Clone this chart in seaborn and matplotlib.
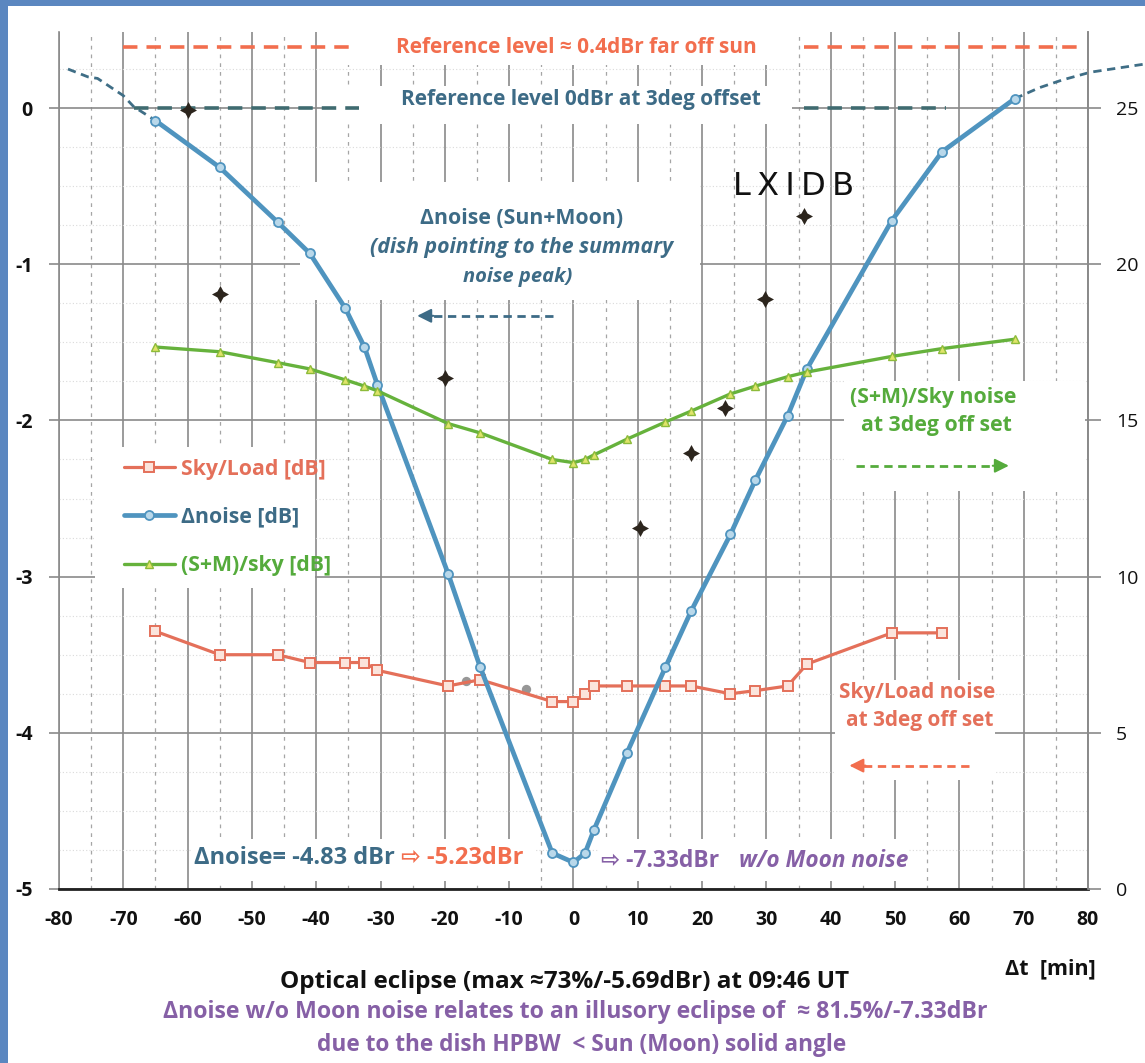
import matplotlib
matplotlib.use("Agg")
import matplotlib.pyplot as plt
from matplotlib.patches import Rectangle
from matplotlib.ticker import MultipleLocator
import seaborn as sns

# ---------------- data ----------------
dt_min = [-65, -55, -46, -41, -35.5, -32.5, -30.5, -19.5, -14.5, -3.3, 0, 1.8, 3.2,
          8.3, 14.3, 18.3, 24.4, 28.3, 33.3, 36.3, 49.5, 57.3, 68.6]
delta_noise = [-0.08, -0.38, -0.73, -0.93, -1.28, -1.53, -1.77, -2.98, -3.58, -4.77, -4.83, -4.77, -4.62,
               -4.13, -3.58, -3.22, -2.73, -2.38, -1.97, -1.67, -0.72, -0.28, 0.06]
sm_sky = [-1.53, -1.56, -1.63, -1.67, -1.74, -1.78, -1.81, -2.02, -2.08, -2.25, -2.27, -2.25, -2.22,
          -2.12, -2.01, -1.94, -1.83, -1.78, -1.72, -1.69, -1.59, -1.54, -1.48]
dt_sky = [-65, -55, -46, -41, -35.5, -32.5, -30.5, -19.5, -14.5, -3.3, 0, 1.8, 3.2,
          8.3, 14.3, 18.3, 24.4, 28.3, 33.3, 36.3, 49.5, 57.3]
sky_load = [-3.35, -3.50, -3.50, -3.55, -3.55, -3.55, -3.60, -3.70, -3.66, -3.80, -3.80, -3.75, -3.70,
            -3.70, -3.70, -3.70, -3.75, -3.73, -3.70, -3.56, -3.36, -3.36]

# dashed continuation of the delta-noise curve beyond the measured points
ext_left_x = [-78.6, -75.5, -74, -70, -68.4, -65]
ext_left_y = [0.25, 0.20, 0.19, 0.08, 0.01, -0.08]
ext_right_x = [68.6, 72.4, 76, 80.4, 88.5]
ext_right_y = [0.06, 0.13, 0.18, 0.23, 0.28]

# reference levels
ref_far_level = 0.39
ref_far_left = [-70, -34.6]
ref_far_right = [35.8, 78.3]
ref_off_level = 0.0
ref_off_left = [-68.4, -33.4]
ref_off_right = [35.8, 58]

# scanned pen marks and smudges on the printout
mark_x = [-60, -55, -20, 10.3, 18.2, 23.6, 29.8, 35.8]
mark_y = [-0.01, -1.19, -1.73, -2.69, -2.21, -1.92, -1.22, -0.69]
smudge_x = [-16.7, -7.4]
smudge_y = [-3.67, -3.72]

xticks = list(range(-80, 81, 10))
yticks_left = [0, -1, -2, -3, -4, -5]
yticks_right = [0, 5, 10, 15, 20, 25]

series_labels = ["Sky/Load [dB]", "\u0394noise [dB]", "(S+M)/sky [dB]"]

# ---------------- style ----------------
sns.set_theme(style="white")
plt.rcParams["font.family"] = ["Open Sans", "DejaVu Sans"]
plt.rcParams["axes.unicode_minus"] = False

C_RED = "#e4705a"
C_BLUE = "#4f94bf"
C_BLUE_TXT = "#3d6b86"
C_GREEN = "#66b23c"
C_GREEN_TXT = "#55ab3c"
C_SALMON = "#f26e4e"
C_PURPLE = "#8660a6"
C_GRID = "#8a8a8a"

fig = plt.figure(figsize=(11.45, 10.63), dpi=100)
ax = fig.add_axes([0.0515, 0.1637, 0.8987, 0.8066])

# blue frame of the scan
fig.patches.append(Rectangle((0, 0), 8 / 1145, 1, transform=fig.transFigure,
                             facecolor="#5b87c0", edgecolor="none"))
fig.patches.append(Rectangle((0, 1 - 6 / 1063), 1, 6 / 1063, transform=fig.transFigure,
                             facecolor="#5b87c0", edgecolor="none"))

ax.set_xlim(-80, 80)
ax.set_ylim(-5, 0.49)
ax.set_xticks(xticks)
ax.set_xticklabels([str(v) for v in xticks], fontweight="bold", fontsize=14)
ax.set_yticks(yticks_left)
ax.set_yticklabels([str(v) for v in yticks_left], fontweight="bold", fontsize=14)
ax.xaxis.set_minor_locator(MultipleLocator(5))
ax.yaxis.set_minor_locator(MultipleLocator(0.25))
ax.set_axisbelow(True)
ax.grid(which="major", color=C_GRID, lw=1.2)
ax.grid(which="minor", axis="x", color="#a5a5a5", lw=0.9, ls=(0, (3, 4)))
ax.grid(which="minor", axis="y", color="#dadada", lw=0.8, ls=(0, (1, 2)))
ax.spines["top"].set_visible(False)
for s in ["left", "right"]:
    ax.spines[s].set_color(C_GRID)
    ax.spines[s].set_linewidth(1.2)
ax.spines["bottom"].set_color("#222222")
ax.spines["bottom"].set_linewidth(2)
ax.tick_params(axis="x", which="major", direction="out", length=7, width=2,
               color="#222222", pad=8, labelcolor="#111111")
ax.tick_params(axis="both", which="minor", length=0)
ax.tick_params(axis="y", which="major", direction="out", length=7, width=1.2,
               color=C_GRID, pad=12, labelcolor="#111111")

ax2 = ax.twinx()
ax2.set_ylim(0, 5 * (0.49 + 5))
ax2.set_yticks(yticks_right)
ax2.set_yticklabels([str(v) for v in yticks_right], fontsize=14)
ax2.tick_params(axis="y", length=9, width=1.2, color=C_GRID, pad=11, labelcolor="#111111")
for s in ["top", "left", "bottom"]:
    ax2.spines[s].set_visible(False)
ax2.spines["right"].set_color(C_GRID)
ax2.grid(False)

# white text panels hiding the grid behind annotations
panels = [(-37.5, 0.275, 68.5, 0.215), (-39, -0.10, 73, 0.24), (-42.5, -1.23, 62.1, 0.76),
          (-74.4, -3.07, 34.2, 0.90), (42, -2.45, 37.5, 0.70), (40.6, -4.30, 24.9, 0.64),
          (-59.5, -4.95, 53.5, 0.27), (4, -4.95, 48, 0.27)]
for (px, py, pw, ph) in panels:
    ax.add_patch(Rectangle((px, py), pw, ph, facecolor="white", edgecolor="none", zorder=1))

# ---------------- series ----------------
sns.scatterplot(x=smudge_x, y=smudge_y, ax=ax, marker="o", s=45, color="#7d7d7d",
                alpha=0.8, linewidth=0, zorder=3, legend=False)
sns.lineplot(x=dt_sky, y=sky_load, ax=ax, sort=False, color=C_RED, lw=2.3,
             marker="s", ms=7, mfc="#fbe4dc", mec=C_RED, mew=1.4,
             label=series_labels[0], zorder=4)
sns.lineplot(x=dt_min, y=delta_noise, ax=ax, sort=False, color=C_BLUE, lw=3.4,
             marker="o", ms=6.5, mfc="#b9d8ea", mec=C_BLUE, mew=1.3,
             label=series_labels[1], zorder=4)
sns.lineplot(x=dt_min, y=sm_sky, ax=ax, sort=False, color=C_GREEN, lw=2.4,
             marker="^", ms=6, mfc="#dfe46a", mec="#8dbb3a", mew=1.0,
             label=series_labels[2], zorder=4)

ax.plot(ext_left_x, ext_left_y, color="#3f6e86", lw=2, ls=(0, (3, 2)), zorder=3, clip_on=False)
ax.plot(ext_right_x, ext_right_y, color="#3f6e86", lw=2, ls=(0, (3, 2)), zorder=3, clip_on=False)

for seg in (ref_far_left, ref_far_right):
    ax.plot(seg, [ref_far_level, ref_far_level], color=C_SALMON, lw=2.6, ls=(0, (4, 2.5)), zorder=3)
for seg in (ref_off_left, ref_off_right):
    ax.plot(seg, [ref_off_level, ref_off_level], color="#3f6b70", lw=2.6, ls=(0, (4, 2.5)), zorder=3)

sns.scatterplot(x=mark_x, y=mark_y, ax=ax, marker=(4, 1, 0), s=150, color="#2c251d",
                linewidth=0, zorder=5, legend=False)

# ---------------- legend ----------------
handles, labels = ax.get_legend_handles_labels()
leg = ax.legend(handles, labels, loc="upper left", bbox_to_anchor=(0.063, 0.502),
                frameon=False, handlelength=2.4, labelspacing=1.28, handletextpad=0.3,
                borderpad=0, borderaxespad=0, prop={"weight": "bold", "size": 15.3})
for t, c in zip(leg.get_texts(), [C_RED, C_BLUE_TXT, C_GREEN_TXT]):
    t.set_color(c)


# ---------------- annotations ----------------
def txt(x, y, s, color, size=15.3, style="normal", ha="center", weight="bold"):
    ax.text(x, y, s, color=color, fontsize=size, fontweight=weight, fontstyle=style,
            ha=ha, va="center", zorder=6)


def dashed_arrow(x0, x1, y, color):
    d = 1 if x1 > x0 else -1
    ax.plot([x0, x1 - d * 1.5], [y, y], color=color, lw=2, ls=(0, (3, 2)), zorder=5)
    ax.annotate("", xy=(x1, y), xytext=(x1 - d * 2.5, y),
                arrowprops=dict(arrowstyle="-|>,head_length=0.7,head_width=0.35",
                                color=color, lw=1.5, shrinkA=0, shrinkB=0), zorder=5)


txt(0.5, 0.39, "Reference level \u2248 0.4dBr far off sun", C_SALMON, size=15)
txt(1.2, 0.053, "Reference level 0dBr at 3deg offset", C_BLUE_TXT, size=15)
txt(-8, -0.71, "\u0394noise (Sun+Moon)", C_BLUE_TXT)
txt(-8, -0.89, "(dish pointing to the summary", C_BLUE_TXT, style="italic")
txt(-8.7, -1.08, "noise peak)", C_BLUE_TXT, style="italic", size=14.5)
dashed_arrow(-3.2, -24.3, -1.33, C_BLUE_TXT)

ax.text(34.2, -0.50, "L\u2009X\u2009I\u2009D\u2009B", color="#111111", fontsize=23,
        family="DejaVu Sans", ha="center", va="center", zorder=6)

txt(55.9, -1.85, "(S+M)/Sky noise", C_GREEN_TXT)
txt(56.4, -2.03, "at 3deg off set", C_GREEN_TXT)
dashed_arrow(44, 67.7, -2.29, C_GREEN_TXT)

txt(53.5, -3.74, "Sky/Load noise", C_RED, size=15)
txt(53.9, -3.92, "at 3deg off set", C_RED, size=15)
dashed_arrow(61.5, 42.9, -4.21, C_SALMON)

txt(-59, -4.80, "\u0394noise= -4.83 dBr", C_BLUE_TXT, size=17, ha="left")
txt(-26.8, -4.80, "\u21e8 -5.23dBr", C_SALMON, size=17, ha="left")
txt(4.3, -4.82, "\u21e8 -7.33dBr", C_PURPLE, size=16.5, ha="left")
txt(25.8, -4.82, "w/o Moon noise", C_PURPLE, size=16.3, style="italic", ha="left")

# ---------------- bottom captions ----------------
fig.text(0.917, 1 - 969 / 1063, "\u0394t  [min]", color="#111111", fontsize=15.5,
         fontweight="bold", ha="center", va="center")
fig.text(0.4934, 1 - 982 / 1063, "Optical eclipse (max \u224873%/-5.69dBr) at 09:46 UT",
         color="#111111", fontsize=17.5, fontweight="bold", ha="center", va="center")
fig.text(0.5026, 1 - 1012 / 1063,
         "\u0394noise w/o Moon noise relates to an illusory eclipse of  \u2248 81.5%/-7.33dBr",
         color=C_PURPLE, fontsize=16.7, fontweight="bold", ha="center", va="center")
fig.text(0.508, 1 - 1045 / 1063, "due to the dish HPBW  < Sun (Moon) solid angle",
         color=C_PURPLE, fontsize=16.3, fontweight="bold", ha="center", va="center")

fig.savefig("out.png", dpi=100, facecolor="white")
